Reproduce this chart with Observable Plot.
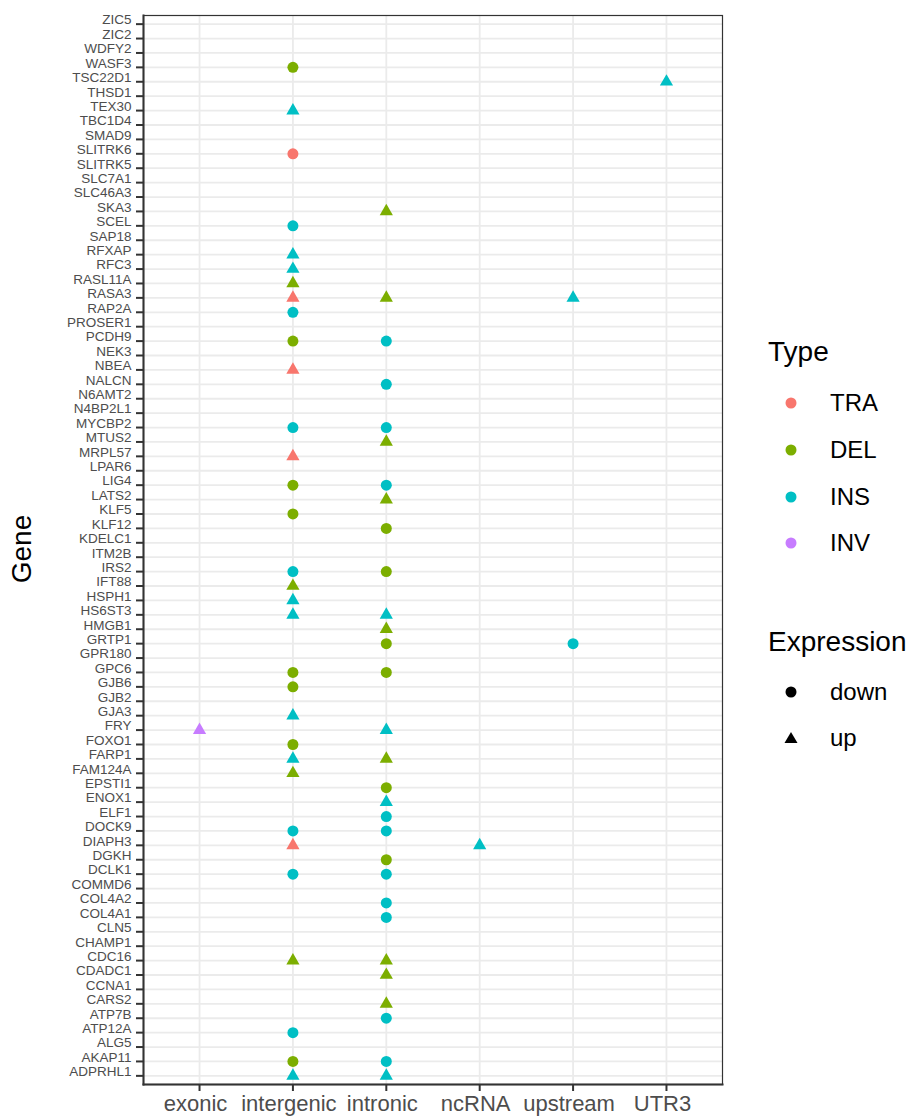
<!DOCTYPE html>
<html><head><meta charset="utf-8">
<script src="https://cdn.jsdelivr.net/npm/d3@7"></script>
<script src="https://cdn.jsdelivr.net/npm/@observablehq/plot@0.6"></script>
<style>
body{margin:0;background:#fff;font-family:"Liberation Sans",Arial,sans-serif;}
#wrap{position:relative;width:917px;height:1117px;overflow:hidden;}
#wrap svg.plot{position:absolute;left:0;top:0;}
#ylab{position:absolute;left:22px;top:549px;transform:translate(-50%,-50%) rotate(-90deg);font-size:28px;color:#000;white-space:nowrap;line-height:28px;}
#legend{position:absolute;left:768px;top:338px;color:#000;}
.ltitle{font-size:28px;line-height:28px;white-space:nowrap;}
.lrow{display:flex;align-items:center;height:46.7px;}
.lsw{width:62px;height:46.7px;position:relative;}
.lsw svg{position:absolute;left:16px;top:16.35px;}
.llab{font-size:24px;line-height:24px;}
</style></head><body><div id="wrap"></div>
<script>
// y categories, top to bottom
const genes = ["ZIC5","ZIC2","WDFY2","WASF3","TSC22D1","THSD1","TEX30","TBC1D4","SMAD9","SLITRK6","SLITRK5","SLC7A1","SLC46A3","SKA3","SCEL","SAP18","RFXAP","RFC3","RASL11A","RASA3","RAP2A","PROSER1","PCDH9","NEK3","NBEA","NALCN","N6AMT2","N4BP2L1","MYCBP2","MTUS2","MRPL57","LPAR6","LIG4","LATS2","KLF5","KLF12","KDELC1","ITM2B","IRS2","IFT88","HSPH1","HS6ST3","HMGB1","GRTP1","GPR180","GPC6","GJB6","GJB2","GJA3","FRY","FOXO1","FARP1","FAM124A","EPSTI1","ENOX1","ELF1","DOCK9","DIAPH3","DGKH","DCLK1","COMMD6","COL4A2","COL4A1","CLN5","CHAMP1","CDC16","CDADC1","CCNA1","CARS2","ATP7B","ATP12A","ALG5","AKAP11","ADPRHL1"];
const regions = ["exonic","intergenic","intronic","ncRNA","upstream","UTR3"];
const types = ["TRA","DEL","INS","INV"];
const typeColors = ["#F8766D","#7CAE00","#00BFC4","#C77CFF"];
const expressions = ["down","up"];

// points
const ptGene   = ["WASF3","TSC22D1","TEX30","SLITRK6","SKA3","SCEL","RFXAP","RFC3","RASL11A","RASA3","RASA3","RASA3","RAP2A","PCDH9","PCDH9","NBEA","NALCN","MYCBP2","MYCBP2","MTUS2","MRPL57","LIG4","LIG4","LATS2","KLF5","KLF12","IRS2","IRS2","IFT88","HSPH1","HS6ST3","HS6ST3","HMGB1","GRTP1","GRTP1","GPC6","GPC6","GJB6","GJA3","FRY","FRY","FOXO1","FARP1","FARP1","FAM124A","EPSTI1","ENOX1","ELF1","DOCK9","DOCK9","DIAPH3","DIAPH3","DGKH","DCLK1","DCLK1","COL4A2","COL4A1","CDC16","CDC16","CDADC1","CARS2","ATP7B","ATP12A","AKAP11","AKAP11","ADPRHL1","ADPRHL1"];
const ptRegion = ["intergenic","UTR3","intergenic","intergenic","intronic","intergenic","intergenic","intergenic","intergenic","intergenic","intronic","upstream","intergenic","intergenic","intronic","intergenic","intronic","intergenic","intronic","intronic","intergenic","intergenic","intronic","intronic","intergenic","intronic","intergenic","intronic","intergenic","intergenic","intergenic","intronic","intronic","intronic","upstream","intergenic","intronic","intergenic","intergenic","exonic","intronic","intergenic","intergenic","intronic","intergenic","intronic","intronic","intronic","intergenic","intronic","intergenic","ncRNA","intronic","intergenic","intronic","intronic","intronic","intergenic","intronic","intronic","intronic","intronic","intergenic","intergenic","intronic","intergenic","intronic"];
const ptType   = ["DEL","INS","INS","TRA","DEL","INS","INS","INS","DEL","TRA","DEL","INS","INS","DEL","INS","TRA","INS","INS","INS","DEL","TRA","DEL","INS","DEL","DEL","DEL","INS","DEL","DEL","INS","INS","INS","DEL","DEL","INS","DEL","DEL","DEL","INS","INV","INS","DEL","INS","DEL","DEL","DEL","INS","INS","INS","INS","TRA","INS","DEL","INS","INS","INS","INS","DEL","DEL","DEL","DEL","INS","INS","DEL","INS","INS","INS"];
const ptExpr   = ["down","up","up","down","up","down","up","up","up","up","up","up","down","down","down","up","down","down","down","up","up","down","down","up","down","down","down","down","up","up","up","up","up","down","down","down","down","down","up","up","up","down","up","up","up","down","up","down","down","down","up","up","down","down","down","down","down","up","up","up","up","down","down","down","down","up","up"];

const data = ptGene.map((g, i) => ({gene: g, region: ptRegion[i], type: ptType[i], expr: ptExpr[i]}));

const chart = Plot.plot({
  width: 917, height: 1117,
  marginLeft: 143, marginRight: 195, marginTop: 15, marginBottom: 33,
  style: {fontFamily: '"Liberation Sans", Arial, sans-serif', background: "white", overflow: "visible"},
  x: {type: "point", domain: regions, padding: 0.6, round: false, axis: null},
  y: {type: "point", domain: genes, padding: 0.6, round: false, axis: null},
  color: {domain: types, range: typeColors},
  symbol: {domain: expressions, range: ["circle", "triangle"]},
  r: {type: "identity"},
  marks: [
    Plot.gridX({stroke: "#ebebeb", strokeOpacity: 1, strokeWidth: 1.8}),
    Plot.gridY({stroke: "#ebebeb", strokeOpacity: 1, strokeWidth: 1.8}),
    Plot.frame({stroke: "#333333", strokeWidth: 1.2}),
    Plot.frame({anchor: "left", stroke: "#333333", strokeWidth: 2}),
    Plot.frame({anchor: "bottom", stroke: "#333333", strokeWidth: 2}),
    // tick marks
    Plot.axisY({tickSize: 7, tickFormat: () => "", label: null, stroke: "#333333", strokeWidth: 2}),
    Plot.axisX({tickSize: 7, tickFormat: () => "", label: null, stroke: "#333333", strokeWidth: 2}),
    // tick labels
    Plot.axisY({tickSize: 0, tickPadding: 12, fontSize: 13.5, label: null, fill: "#4d4d4d", dy: -4}),
    Plot.axisX({tickSize: 0, tickPadding: 11, fontSize: 22, label: null, fill: "#4d4d4d", dx: -4}),
    Plot.dot(data, {x: "region", y: "gene", fill: "type", symbol: "expr", r: d => d.expr === "up" ? 4.9 : 5.5})
  ]
});
chart.classList.add("plot");
const wrap = document.getElementById("wrap");
wrap.appendChild(chart);

const ylab = document.createElement("div");
ylab.id = "ylab";
ylab.textContent = "Gene";
wrap.appendChild(ylab);

// legend
const legend = document.createElement("div");
legend.id = "legend";
function sw(shape, color) {
  const s = shape === "circle"
    ? `<circle cx="7" cy="7" r="5.5" fill="${color}"/>`
    : `<path d="M7,1 L13.5,12 L0.5,12 Z" fill="${color}"/>`;
  return `<svg width="14" height="14" viewBox="0 0 14 14">${s}</svg>`;
}
let html = `<div class="ltitle">Type</div><div style="height:14px"></div>`;
types.forEach((t, i) => {
  html += `<div class="lrow"><div class="lsw">${sw("circle", typeColors[i])}</div><div class="llab">${t}</div></div>`;
});
html += `<div style="height:61.3px"></div><div class="ltitle">Expression</div><div style="height:12.3px"></div>`;
expressions.forEach((e, i) => {
  html += `<div class="lrow"><div class="lsw">${sw(i === 0 ? "circle" : "triangle", "#000")}</div><div class="llab">${e}</div></div>`;
});
legend.innerHTML = html;
wrap.appendChild(legend);
</script>
</body></html>
